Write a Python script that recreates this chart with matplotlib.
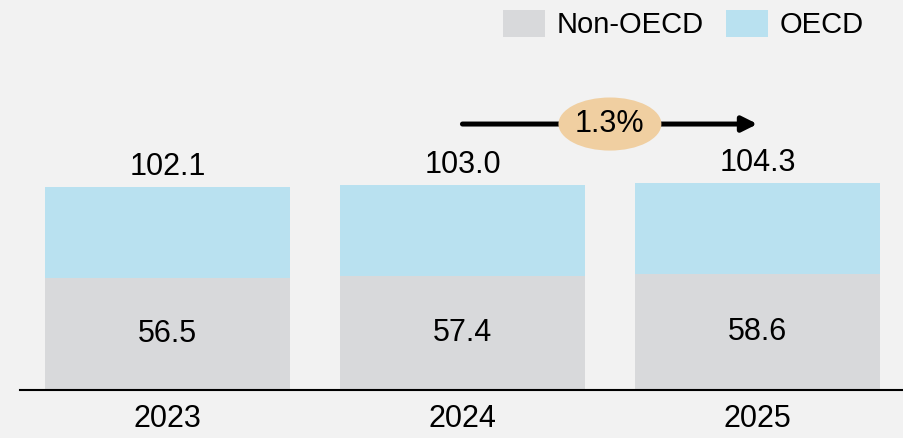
import matplotlib.pyplot as plt
from matplotlib.patches import Ellipse

plt.rcParams["font.family"] = ["Liberation Sans", "DejaVu Sans"]

years = ["2023", "2024", "2025"]
non_oecd = [56.5, 57.4, 58.6]
totals = [102.1, 103.0, 104.3]
oecd = [t - n for t, n in zip(totals, non_oecd)]
growth_label = "1.3%"

bg = "#f2f2f2"
gray = "#d8d9db"
blue = "#b9e1f0"
tan = "#f0cfa1"

fig = plt.figure(figsize=(9.04, 4.38), dpi=100, facecolor=bg)
ax = fig.add_axes([20 / 904, 48 / 438, 884 / 904, 390 / 438])
ax.set_facecolor(bg)

x = range(len(years))
ax.bar(x, non_oecd, width=0.83, color=gray, label="Non-OECD")
ax.bar(x, oecd, bottom=non_oecd, width=0.83, color=blue, label="OECD")

# segment labels and totals
for i in x:
    ax.text(i, non_oecd[i] / 2, f"{non_oecd[i]:.1f}", ha="center", va="center", fontsize=22)
    ax.annotate(f"{totals[i]:.1f}", (i, totals[i]), xytext=(0, 3.5), textcoords="offset points",
                ha="center", va="bottom", fontsize=22)

# growth arrow between 2024 and 2025
arrow_y = 133.8
ax.annotate("", xy=(2, arrow_y), xytext=(1, arrow_y),
            arrowprops=dict(arrowstyle="-|>,head_length=0.9,head_width=0.45", color="black",
                            lw=3.6, shrinkA=0, shrinkB=0))
ax.add_patch(Ellipse((1.5, arrow_y), 0.349, 26.7, facecolor=tan, edgecolor="none", zorder=3))
ax.text(1.5, arrow_y, growth_label, ha="center", va="center", fontsize=22, zorder=4)

ax.set_xlim(-0.5, 2.497)
ax.set_ylim(0, 196.2)
ax.set_xticks(list(x))
ax.set_xticklabels(years, fontsize=22)
ax.tick_params(axis="x", length=0, pad=10)
ax.set_yticks([])
for side in ["top", "right", "left"]:
    ax.spines[side].set_visible(False)
ax.spines["bottom"].set_linewidth(1.5)

ax.legend(loc="upper right", bbox_to_anchor=(864 / 904, 1 - 10 / 438), bbox_transform=fig.transFigure,
          ncol=2, frameon=False, fontsize=21, handlelength=1.45, handleheight=1.05,
          handletextpad=0.4, columnspacing=0.75, borderpad=0, borderaxespad=0)

fig.savefig("out.png", dpi=100, facecolor=bg)
